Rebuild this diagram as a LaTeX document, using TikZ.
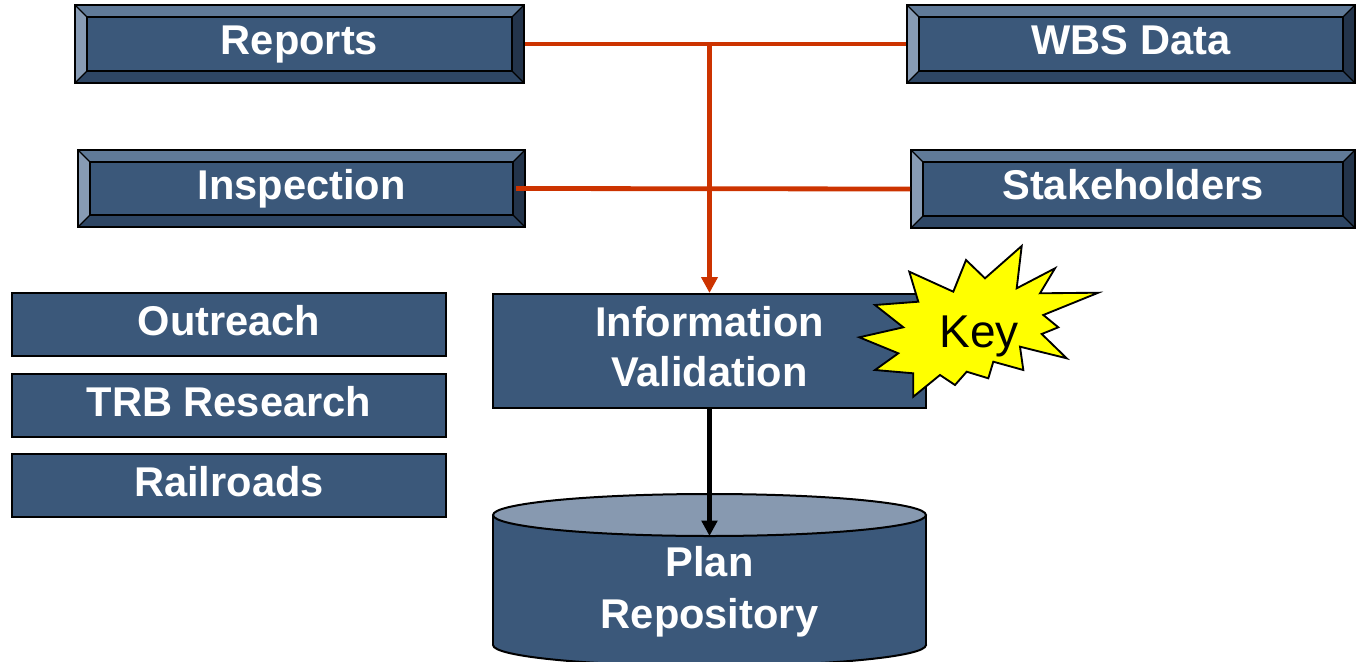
\documentclass[tikz,border=0pt]{standalone}
\usepackage{fontspec}
\setmainfont{Liberation Sans}
\usetikzlibrary{arrows.meta}
\definecolor{face}{RGB}{59,88,122}
\definecolor{bvtop}{RGB}{96,122,152}
\definecolor{bvleft}{RGB}{135,155,180}
\definecolor{bvright}{RGB}{35,52,75}
\definecolor{bvbot}{RGB}{46,70,100}
\definecolor{cyltop}{RGB}{135,153,176}
\definecolor{linkred}{RGB}{204,51,0}
\definecolor{burst}{RGB}{255,255,0}
\tikzset{
  whitetxt/.style={text=white,font=\fontsize{31.2}{37.5}\selectfont\bfseries,align=center,inner sep=0pt},
  boxtxt/.style={whitetxt,text height=22.4pt,text depth=6.5pt},
  plainbox/.style={draw=black,fill=face,line width=1.5pt},
  bvline/.style={draw=black,line width=0.9pt},
  redlink/.style={draw=linkred,line width=3.6pt},
  redarrow/.style={redlink,-{Triangle[length=12pt,width=12pt]}},
  blackarrow/.style={draw=black,line width=3.5pt,-{Triangle[length=11.5pt,width=11.5pt]}},
  keytxt/.style={font=\fontsize{34.5}{40}\selectfont,text=black,inner sep=0pt},
}
% name, x1, y1, x2, y2, text
\newcommand\bevelbox[6]{%
  \fill[bvtop] (#2,#3) -- (#4,#3) -- ({#4-12},{#3+12}) -- ({#2+12},{#3+12}) -- cycle;
  \fill[bvleft] (#2,#3) -- ({#2+12},{#3+12}) -- ({#2+12},{#5-12}) -- (#2,#5) -- cycle;
  \fill[bvright] (#4,#3) -- (#4,#5) -- ({#4-12},{#5-12}) -- ({#4-12},{#3+12}) -- cycle;
  \fill[bvbot] (#2,#5) -- (#4,#5) -- ({#4-12},{#5-12}) -- ({#2+12},{#5-12}) -- cycle;
  \fill[face] ({#2+12},{#3+12}) rectangle ({#4-12},{#5-12});
  \draw[bvline] ({#2+12},{#3+12}) rectangle ({#4-12},{#5-12});
  \draw[bvline] (#2,#3) -- ({#2+12},{#3+12}) (#4,#3) -- ({#4-12},{#3+12})
     (#2,#5) -- ({#2+12},{#5-12}) (#4,#5) -- ({#4-12},{#5-12});
  \pgfmathsetmacro\bvw{(#4-#2)*0.75}%
  \pgfmathsetmacro\bvh{(#5-#3)*0.75}%
  \node[boxtxt,draw=black,line width=1.5pt,minimum width=\bvw pt,minimum height=\bvh pt]
     (#1) at ({(#2+#4)/2},{(#3+#5)/2}) {#6};
}
\begin{document}
\begin{tikzpicture}[x=0.75pt,y=-0.75pt]
\useasboundingbox (0,0) rectangle (1357,661);

% bevelled source boxes
\bevelbox{rep}{75}{5}{524}{83}{Reports}
\bevelbox{wbs}{907}{5}{1355}{83}{WBS Data}
\bevelbox{insp}{78}{150}{525}{227}{Inspection}
\bevelbox{stk}{911}{150}{1355}{228}{Stakeholders}

% plain boxes
\node[boxtxt,plainbox,minimum width=325.5pt,minimum height=47.25pt] (out) at (229,324.5) {Outreach};
\node[boxtxt,plainbox,minimum width=325.5pt,minimum height=47.25pt] (trb) at (229,405.5) {TRB Research};
\node[boxtxt,plainbox,minimum width=325.5pt,minimum height=47.25pt] (rail) at (229,485.5) {Railroads};

% information validation
\node[whitetxt,plainbox,minimum width=324.75pt,minimum height=85.5pt] (info) at (709.5,351)
  {Information\\Validation\rule[-0.2em]{0pt}{0pt}};

% cylinder
\fill[face,draw=black,line width=1.5pt] (709.5,645) ellipse [x radius=216.5, y radius=21];
\fill[face] (493,515) rectangle (926,645);
\draw[black,line width=1.5pt] (493,515) -- (493,645) (926,515) -- (926,645);
\fill[cyltop,draw=black,line width=1.5pt] (709.5,515) ellipse [x radius=216.5, y radius=21];
\node[whitetxt,font=\fontsize{31.2}{39}\selectfont\bfseries] (repo) at (709.5,592) {Plan\\Repository};
\coordinate (repotop) at (709.5,536);

% connectors
\coordinate (j) at (info.north |- rep.east);
\draw[redlink] (rep.east) -- (wbs.west);
\draw[redlink] ([shift={(-10,0)}]insp.east) -- (stk.west);
\draw[redarrow] (j) -- (info.north);
\draw[blackarrow] (info.south) -- (repotop);

% key starburst
\filldraw[fill=burst,draw=black,line width=1.4pt,line join=miter]
 (859.3,337.3) -- (903.3,327.3) -- (875,305) -- (918.3,301.7) -- (909.3,271.7)
 -- (953.3,291.7) -- (966,260) -- (985,278.3) -- (1021.7,246) -- (1016.7,288.3)
 -- (1055,268.3) -- (1040,293.3) -- (1098.3,292.7) -- (1043.3,315) -- (1058.3,327.3)
 -- (1041.7,334) -- (1066.7,358.3) -- (1020,346.7) -- (1023.3,370) -- (993.3,361.7)
 -- (988.3,378.3) -- (966.7,371.7) -- (955,385) -- (940,375) -- (913.3,396.7)
 -- (913.3,373.3) -- (875,370) -- (898.3,353.3) -- cycle;
\node[keytxt] (key) at (979,336) {Key};
\end{tikzpicture}
\end{document}
